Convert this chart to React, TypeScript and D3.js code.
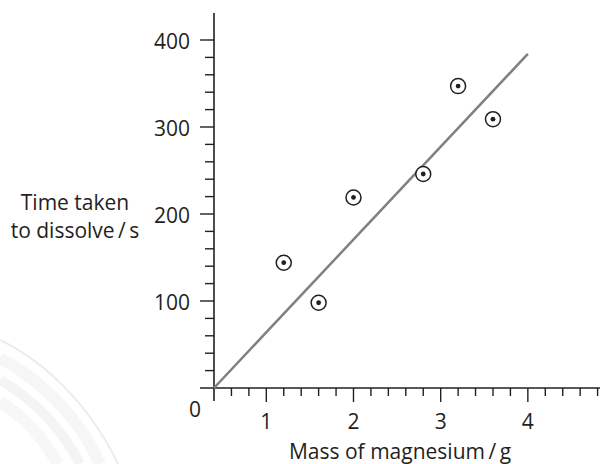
import React from "react";
import * as d3 from "d3";

const masses = [1.2, 1.6, 2.0, 2.8, 3.2, 3.6];
const times = [144, 98, 219, 246, 347, 309];
const fitX = [0.4, 4.0];
const fitY = [0, 384];
const yMajor = [100, 200, 300, 400];
const xMajor = [1, 2, 3, 4];

const W = 600;
const H = 464;
const INK = "#231f20";
const FONT = "'Open Sans', 'Noto Sans', sans-serif";
const FS = 21;

export default function App() {
  const x = d3.scaleLinear().domain([0.4, 4.8]).range([214, 597.6]);
  const y = d3.scaleLinear().domain([0, 400]).range([388, 40]);

  const yTicks = d3.range(20, 401, 20);
  const xTicks = d3.range(0.6, 4.81, 0.2);
  const isMajorY = (v: number) => Math.abs(v % 100) < 1e-6;
  const isMajorX = (v: number) => Math.abs(v - Math.round(v)) < 1e-6;

  const fit = d3
    .line<number>()
    .x((d, i) => x(fitX[i]))
    .y((d, i) => y(fitY[i]));

  const swooshes = [
    { d: "M0,340 C45,362 90,405 118,464", w: 2, c: "#ececed" },
    { d: "M0,358 C40,380 78,415 100,464", w: 12, c: "#f6f6f7" },
    { d: "M0,380 C32,398 62,428 80,464", w: 10, c: "#f4f4f5" },
    { d: "M0,402 C24,416 44,440 58,464", w: 12, c: "#f7f7f8" },
  ];

  return (
    <svg
      width={W}
      height={H}
      style={{ position: "absolute", left: 0, top: 0, background: "#fff" }}
      fontFamily={FONT}
    >
      {swooshes.map((s, i) => (
        <path key={i} d={s.d} fill="none" stroke={s.c} strokeWidth={s.w} />
      ))}

      {/* axes */}
      <line x1={x(0.4)} x2={x(0.4)} y1={13} y2={401} stroke={INK} strokeWidth={1.6} />
      <line x1={200} x2={600} y1={y(0)} y2={y(0)} stroke={INK} strokeWidth={1.6} />

      {yTicks.map((v) => (
        <line
          key={"yt" + v}
          x1={x(0.4) - (isMajorY(v) ? 14 : 9)}
          x2={x(0.4)}
          y1={y(v)}
          y2={y(v)}
          stroke={INK}
          strokeWidth={1.4}
        />
      ))}
      {xTicks.map((v) => (
        <line
          key={"xt" + v.toFixed(1)}
          x1={x(v)}
          x2={x(v)}
          y1={y(0)}
          y2={y(0) + (isMajorX(v) ? 14 : 8)}
          stroke={INK}
          strokeWidth={1.4}
        />
      ))}

      {yMajor.map((v) => (
        <text key={"yl" + v} x={190} y={y(v) + 9} textAnchor="end" fontSize={FS} fill={INK}>
          {v}
        </text>
      ))}
      <text x={195} y={417} textAnchor="middle" fontSize={FS} fill={INK}>
        0
      </text>
      {xMajor.map((v) => (
        <text key={"xl" + v} x={x(v)} y={429} textAnchor="middle" fontSize={FS} fill={INK}>
          {v}
        </text>
      ))}

      <text x={400} y={459} textAnchor="middle" fontSize={FS} fill={INK}>
        Mass of magnesium{"\u2009/\u2009"}g
      </text>
      <text x={75} y={210} textAnchor="middle" fontSize={FS} fill={INK}>
        Time taken
      </text>
      <text x={75} y={238} textAnchor="middle" fontSize={FS} fill={INK}>
        to dissolve{"\u2009/\u2009"}s
      </text>

      <path d={fit(fitX) || ""} fill="none" stroke="#808080" strokeWidth={2.5} />

      {masses.map((m, i) => (
        <g key={"p" + i}>
          <circle cx={x(m)} cy={y(times[i])} r={7.5} fill="#fff" stroke={INK} strokeWidth={1.5} />
          <circle cx={x(m)} cy={y(times[i])} r={2.4} fill={INK} />
        </g>
      ))}
    </svg>
  );
}
